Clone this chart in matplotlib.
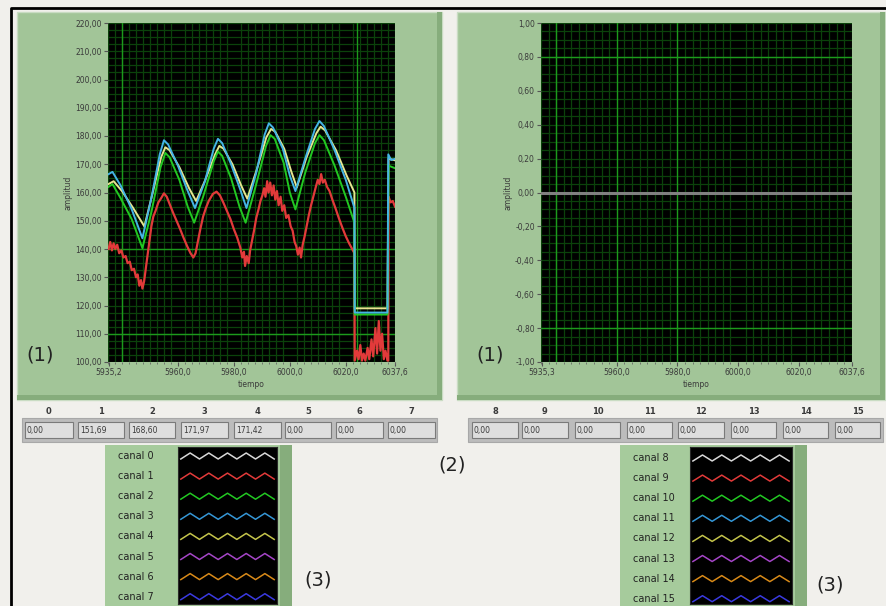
import numpy as np
import matplotlib.pyplot as plt
from matplotlib.patches import Rectangle

W, H = 887, 606

# ---- data ----
# canal 3 (cyan-blue)
t_c3 = [5935.2, 5936.6, 5939.5, 5943.5, 5947.3, 5950.5, 5953.5, 5955.0, 5956.5, 5960.0, 5963.5, 5966.1,
        5969.5, 5972.8, 5974.3, 5975.8, 5979.0, 5982.3, 5984.5, 5988.0, 5991.0, 5992.5, 5994.0, 5997.5,
        6000.0, 6002.0, 6005.5, 6009.0, 6010.6, 6012.2, 6016.0, 6020.0, 6023.1, 6023.2, 6034.9, 6035.2,
        6036.2, 6037.6]
v_c3 = [166.5, 167.3, 162.5, 154.0, 143.8, 158.0, 173.5, 178.5, 177.0, 169.5, 160.5, 154.5,
        163.5, 175.5, 179.0, 177.5, 170.0, 161.0, 154.5, 167.0, 180.5, 184.5, 183.0, 175.5,
        166.0, 160.5, 172.0, 182.5, 185.3, 183.5, 175.0, 164.5, 154.5, 117.5, 117.5, 173.5,
        171.5, 171.9]

# canal 4 (yellow)
t_c4 = [5935.2, 5937.0, 5940.0, 5944.0, 5948.0, 5951.0, 5954.0, 5955.5, 5957.0, 5960.5, 5964.0, 5966.5,
        5969.8, 5973.3, 5974.8, 5976.3, 5979.5, 5982.6, 5984.8, 5988.3, 5991.6, 5993.3, 5994.8, 5998.0,
        6000.5, 6002.5, 6006.0, 6009.5, 6011.0, 6012.6, 6016.5, 6020.3, 6023.1, 6023.2, 6034.9, 6035.3,
        6037.6]
v_c4 = [163.0, 164.0, 160.5, 154.5, 148.0, 160.0, 172.5, 176.0, 175.0, 169.0, 161.5, 157.0,
        164.5, 173.5, 176.5, 175.5, 170.0, 162.5, 157.8, 168.5, 179.5, 182.5, 181.5, 175.5,
        167.5, 161.8, 172.5, 181.0, 183.3, 182.0, 175.0, 166.0, 160.0, 119.0, 119.0, 172.0,
        171.4]

# canal 2 (green)
t_c2 = [5935.2, 5936.6, 5939.5, 5943.5, 5947.3, 5950.5, 5953.8, 5955.5, 5957.0, 5960.5, 5963.5, 5965.8,
        5969.0, 5972.8, 5974.3, 5975.8, 5979.0, 5982.0, 5984.2, 5988.0, 5991.5, 5993.1, 5994.6, 5997.8,
        6000.0, 6002.0, 6005.5, 6009.0, 6010.6, 6012.2, 6016.0, 6020.0, 6023.1, 6023.2, 6034.9, 6035.3,
        6037.6]
v_c2 = [162.0, 163.0, 158.0, 150.5, 140.3, 153.0, 169.0, 174.0, 172.5, 164.5, 155.0, 149.3,
        158.5, 171.0, 174.5, 173.0, 165.0, 155.0, 149.3, 163.0, 176.5, 180.3, 179.0, 170.5,
        160.0, 154.0, 167.0, 177.5, 180.3, 178.5, 169.5, 158.5, 149.3, 116.8, 116.8, 169.5,
        168.6]

# canal 1 (red, noisy)
t_c1 = [5935.2, 5935.8, 5936.4, 5937.0, 5937.6, 5938.3, 5939.0, 5939.8, 5940.5, 5941.3, 5942.0, 5942.8,
        5943.5, 5944.3, 5945.0, 5945.6, 5946.2, 5946.8, 5947.3, 5947.9, 5948.5, 5949.2, 5949.8, 5950.5,
        5951.2, 5952.0, 5953.0, 5954.0, 5955.0, 5956.0, 5957.0, 5958.2, 5959.5, 5960.8, 5962.0, 5963.3,
        5964.5, 5965.5, 5966.3, 5967.0, 5968.0, 5969.0, 5970.0, 5971.0, 5972.5, 5973.8, 5975.0, 5976.2,
        5977.5, 5978.8, 5980.0, 5981.2, 5982.3, 5983.0, 5983.6, 5984.0, 5984.6, 5985.3, 5985.8, 5986.5,
        5987.3, 5988.0, 5988.8, 5989.5, 5990.2, 5990.8, 5991.3, 5991.9, 5992.4, 5993.0, 5993.6, 5994.2,
        5994.8, 5995.4, 5996.0, 5996.7, 5997.3, 5998.0, 5998.7, 5999.5, 6000.3, 6001.0, 6001.7, 6002.3,
        6002.9, 6003.5, 6004.0, 6004.6, 6005.3, 6006.0, 6006.8, 6007.6, 6008.5, 6009.3, 6010.0, 6010.6,
        6011.2, 6011.8, 6012.5, 6013.3, 6014.2, 6015.2, 6016.3, 6017.5, 6018.8, 6020.0, 6021.2, 6022.3,
        6023.1, 6023.2, 6024.0, 6024.6, 6025.2, 6025.8, 6026.4, 6027.0, 6027.8, 6028.4, 6029.2, 6029.8,
        6030.6, 6031.2, 6031.8, 6032.4, 6033.0, 6033.6, 6034.2, 6034.9, 6035.2, 6035.3, 6036.0, 6036.8,
        6037.6]
v_c1 = [140.0, 142.5, 139.5, 142.0, 140.0, 141.5, 138.5, 139.5, 137.0, 137.5, 135.0, 135.5,
        132.5, 133.0, 130.0, 131.0, 127.0, 129.0, 126.0, 128.5, 133.0, 138.5, 143.0, 148.0,
        151.5, 153.5, 156.5, 158.0, 159.7, 158.5, 156.0, 153.0, 150.0, 147.0, 144.0, 141.0,
        138.5, 137.0, 138.5, 142.0, 147.0, 151.5, 154.5, 157.0, 159.5, 160.3, 159.0, 156.5,
        153.5, 150.5, 147.0, 144.0, 140.5, 137.0, 139.0, 134.0, 137.5, 135.0, 139.5, 143.0,
        147.0, 151.0, 154.0, 157.0, 159.0, 161.5, 158.5, 164.0, 160.0, 163.5, 159.0, 162.5,
        157.5, 160.5, 155.5, 158.5, 153.5, 155.5, 151.0, 152.0, 148.0, 146.5, 142.5, 141.0,
        138.0, 140.5, 137.0, 141.5, 144.5, 148.0, 152.0, 155.5, 159.0, 162.0, 164.5, 163.0,
        166.5, 163.5, 164.5, 162.0, 160.5, 157.5, 154.5, 151.0, 147.5, 144.5, 142.0, 140.0,
        138.5, 100.5, 104.0, 101.0, 106.0, 100.5, 103.0, 100.5, 105.0, 101.0, 108.0, 102.0,
        112.0, 103.0, 114.5, 104.0, 110.0, 101.0, 104.0, 100.5, 100.5, 158.5, 156.5, 157.0,
        155.0]

# canal 8..15 are all zero
t_right = [5935.2, 6037.6]
v_right = [0.0, 0.0]

left_values = ["0,00", "151,69", "168,60", "171,97", "171,42", "0,00", "0,00", "0,00"]
right_values = ["0,00", "0,00", "0,00", "0,00", "0,00", "0,00", "0,00", "0,00"]
left_idx = ["0", "1", "2", "3", "4", "5", "6", "7"]
right_idx = ["8", "9", "10", "11", "12", "13", "14", "15"]

left_names = ["canal 0", "canal 1", "canal 2", "canal 3", "canal 4", "canal 5", "canal 6", "canal 7"]
right_names = ["canal 8", "canal 9", "canal 10", "canal 11", "canal 12", "canal 13", "canal 14", "canal 15"]
chan_colors = ["#d8d8d8", "#e23a3a", "#22c822", "#3596d6", "#c4c44a", "#a545c8", "#d88a18", "#3a3ae0"]
zig = [0, 1, 0, 1, 0, 1, 0, 1, 0, 1, 0]

left_yticks = [100, 110, 120, 130, 140, 150, 160, 170, 180, 190, 200, 210, 220]
left_ylabels = ["100,00", "110,00", "120,00", "130,00", "140,00", "150,00", "160,00",
                "170,00", "180,00", "190,00", "200,00", "210,00", "220,00"]
right_yticks = [-1.0, -0.8, -0.6, -0.4, -0.2, 0.0, 0.2, 0.4, 0.6, 0.8, 1.0]
right_ylabels = ["-1,00", "-0,80", "-0,60", "-0,40", "-0,20", "0,00", "0,20", "0,40", "0,60", "0,80", "1,00"]
xticks = [5935.2, 5960.0, 5980.0, 6000.0, 6020.0, 6037.6]
left_xlabels = ["5935,2", "5960,0", "5980,0", "6000,0", "6020,0", "6037,6"]
right_xlabels = ["5935,3", "5960,0", "5980,0", "6000,0", "6020,0", "6037,6"]

GREEN = "#a2c598"
GREEN_DK = "#86ad7c"
TXT = "#3a3a3a"


def box(x0, y0, x1, y1):
    return [x0 / W, 1 - y1 / H, (x1 - x0) / W, (y1 - y0) / H]


fig = plt.figure(figsize=(W / 100, H / 100), dpi=100)
fig.patch.set_facecolor("#f1f0ec")
bg = fig.add_axes([0, 0, 1, 1])
bg.set_xlim(0, W)
bg.set_ylim(H, 0)
bg.axis("off")

# outer frame
bg.plot([11, 11, W], [H, 8, 8], color="black", lw=2)

# green graph panels
for x0, x1 in [(17, 442), (457, 885)]:
    bg.add_patch(Rectangle((x0, 12), x1 - x0, 388, fc=GREEN, ec="#c9dcc3", lw=1))
    bg.add_patch(Rectangle((x1 - 5, 12), 5, 388, fc=GREEN_DK, ec="none"))
    bg.add_patch(Rectangle((x0, 395), x1 - x0, 5, fc=GREEN_DK, ec="none"))


def scope(rect, ylim, yticks, ylabels, xlabels, majx, majy, ystep):
    ax = fig.add_axes(box(*rect))
    ax.set_facecolor("black")
    ax.set_xlim(5935.2, 6037.6)
    ax.set_ylim(*ylim)
    ax.set_yticks(yticks)
    ax.set_yticklabels(ylabels)
    ax.set_xticks(xticks)
    ax.set_xticklabels(xlabels)
    ax.set_xticks(np.arange(5935.0, 6038.0, 2.5), minor=True)
    ax.set_yticks(np.arange(ylim[0], ylim[1] + 1e-9, ystep), minor=True)
    ax.grid(which="minor", color="#0b420b", lw=0.9)
    ax.grid(which="major", axis="y", color="#0b420b", lw=0.9)
    for v in majx:
        ax.axvline(v, color="#1c9a1c", lw=1.0)
    for v in majy:
        ax.axhline(v, color="#1c9a1c", lw=1.0)
    ax.tick_params(which="major", length=3, width=0.8, color="#555555",
                   labelsize=5.5, labelcolor=TXT, pad=1.5)
    ax.tick_params(which="minor", length=1.5, width=0.6, color="#666666")
    ax.tick_params(axis="y", which="minor", length=0)
    for s in ax.spines.values():
        s.set_visible(False)
    ax.set_xlabel("tiempo", fontsize=5.5, color=TXT, labelpad=2)
    ax.set_ylabel("amplitud", fontsize=5.5, color=TXT, labelpad=2)
    return ax


axl = scope((108, 23, 395, 362), (100, 220), left_yticks, left_ylabels, left_xlabels,
            [5940.0, 6024.0], [140.0, 110.0], 2.5)
axl.plot(t_c1, v_c1, color=chan_colors[1], lw=1.6, zorder=3)
axl.plot(t_c4, v_c4, color="#e6e690", lw=1.4, zorder=4)
axl.plot(t_c2, v_c2, color=chan_colors[2], lw=1.4, zorder=4)
axl.plot(t_c3, v_c3, color="#45b4e6", lw=1.4, zorder=5)

axr = scope((541, 23, 852, 362), (-1.0, 1.0), right_yticks, right_ylabels, right_xlabels,
            [5940.0, 5960.0, 5980.0], [0.8, -0.8], 0.05)
axr.plot(t_right, v_right, color="#808080", lw=2.2, zorder=3)

# (1) markers
bg.text(40, 355, "(1)", fontsize=14, color="#222222", ha="center", va="center")
bg.text(490, 355, "(1)", fontsize=14, color="#222222", ha="center", va="center")

# numeric indicator rows
left_boxes = [(25, 73), (78, 124), (129, 175), (181, 228), (234, 281), (285, 331), (336, 383), (388, 435)]
right_boxes = [(472, 518), (522, 568), (575, 620), (627, 672), (678, 724), (731, 776), (783, 828), (835, 880)]
for frame, boxes, idx, vals in [((22, 437), left_boxes, left_idx, left_values),
                                ((468, 883), right_boxes, right_idx, right_values)]:
    bg.add_patch(Rectangle((frame[0], 418), frame[1] - frame[0], 24, fc="#bcbcbc", ec="#a8a8a8", lw=0.8))
    for (x0, x1), lab, val in zip(boxes, idx, vals):
        bg.add_patch(Rectangle((x0, 422), x1 - x0, 16, fc="#dedede", ec="#7a7a7a", lw=0.8))
        bg.text((x0 + x1) / 2, 411, lab, fontsize=6, fontweight="bold", color=TXT, ha="center", va="center")
        bg.text(x0 + 2, 430.5, val, fontsize=5.5, color=TXT, ha="left", va="center")

bg.text(452, 465, "(2)", fontsize=14, color="#222222", ha="center", va="center")

# plot legends
zx = np.arange(len(zig))
for (px0, px1, sx0, sx1, y_first), names in [((105, 292, 178, 277, 456), left_names),
                                             ((620, 807, 690, 792, 458), right_names)]:
    bg.add_patch(Rectangle((px0, 445), px1 - px0, H - 445, fc="#a6cb9c", ec="none"))
    bg.add_patch(Rectangle((px1 - 12, 445), 12, H - 445, fc=GREEN_DK, ec="none"))
    lg = fig.add_axes(box(sx0, 447, sx1, 604))
    lg.set_facecolor("black")
    lg.set_xlim(-0.3, len(zig) - 0.7)
    lg.set_ylim(604, 447)
    lg.set_xticks([])
    lg.set_yticks([])
    for s in lg.spines.values():
        s.set_color("#2a2a2a")
    for i, (name, col) in enumerate(zip(names, chan_colors)):
        yc = y_first + 20.1 * i
        lg.plot(zx, [yc + 3 - 6 * z for z in zig], color=col, lw=1.1)
        bg.text(px0 + 13, yc, name, fontsize=7, color="#222222", ha="left", va="center")

bg.text(318, 580, "(3)", fontsize=14, color="#222222", ha="center", va="center")
bg.text(830, 585, "(3)", fontsize=14, color="#222222", ha="center", va="center")

fig.savefig("out.png", dpi=100, facecolor=fig.get_facecolor())
